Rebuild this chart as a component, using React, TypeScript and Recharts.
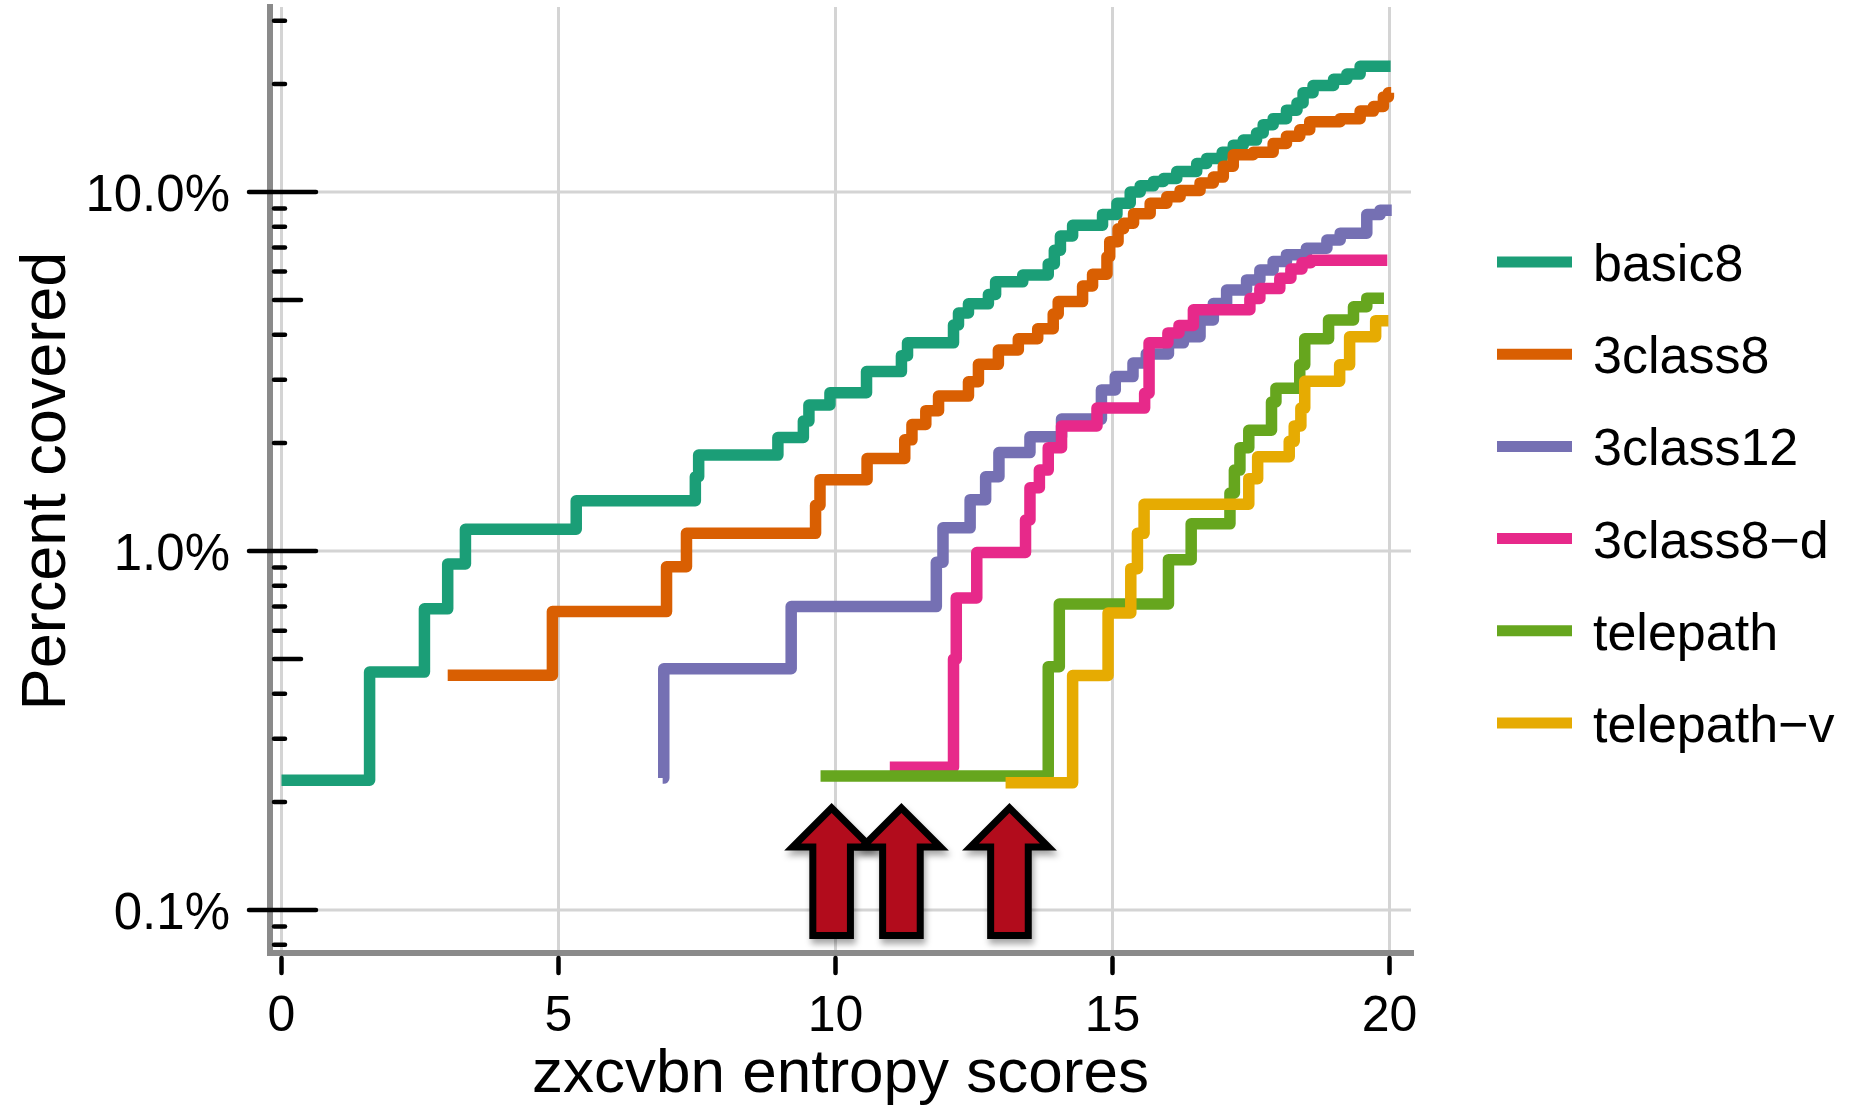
import React from 'react';
import { LineChart, Line, XAxis, YAxis, ReferenceLine, ReferenceDot, Legend, Label } from 'recharts';

const FONT = '"Liberation Sans", Arial, Helvetica, sans-serif';

// [x, percent] step points (stepAfter)
const basic8 = [
  [0, 0.23], [1.59, 0.46], [2.58, 0.69], [3.0, 0.92], [3.32, 1.15], [5.32, 1.38], [7.47, 1.61], [7.53, 1.85],
  [8.96, 2.07], [9.42, 2.3], [9.52, 2.55], [9.9, 2.76], [10.56, 3.16], [11.19, 3.5], [11.3, 3.8], [12.13, 4.26],
  [12.22, 4.6], [12.4, 4.88], [12.76, 5.18], [12.89, 5.62], [13.38, 5.87], [13.84, 6.3], [13.95, 6.88], [14.06, 7.54],
  [14.28, 8.08], [14.82, 8.66], [15.08, 9.3], [15.32, 10.0], [15.5, 10.4], [15.74, 10.7], [15.92, 10.9], [16.16, 11.4],
  [16.52, 12.0], [16.7, 12.4], [16.98, 12.9], [17.18, 13.5], [17.36, 13.95], [17.6, 14.6], [17.72, 15.4], [17.9, 16.0],
  [18.14, 16.9], [18.33, 17.7], [18.44, 18.9], [18.62, 19.8], [18.99, 20.6], [19.23, 21.3], [19.47, 22.4], [20.02, 22.4],
];
const class3_8 = [
  [3.0, 0.451], [4.89, 0.678], [6.95, 0.904], [7.31, 1.12], [9.64, 1.34], [9.72, 1.58], [10.57, 1.81], [11.25, 2.04],
  [11.38, 2.25], [11.63, 2.46], [11.86, 2.7], [12.4, 2.96], [12.58, 3.31], [12.94, 3.63], [13.3, 3.9], [13.65, 4.16],
  [13.93, 4.57], [14.02, 4.95], [14.46, 5.47], [14.64, 5.9], [14.9, 6.6], [14.95, 7.27], [15.1, 7.9], [15.2, 8.18],
  [15.38, 8.7], [15.68, 9.3], [15.98, 9.7], [16.22, 10.1], [16.58, 10.6], [16.82, 11.0], [17.0, 11.8], [17.18, 12.7],
  [17.54, 12.9], [17.9, 13.65], [18.14, 14.3], [18.38, 14.9], [18.56, 15.7], [19.11, 16.0], [19.47, 16.8], [19.71, 17.3],
  [19.89, 18.4], [19.98, 18.9], [20.03, 18.9],
];
const class3_12 = [
  [6.88, 0.233], [6.9, 0.47], [9.2, 0.7], [11.82, 0.93], [11.94, 1.16], [12.43, 1.39], [12.71, 1.61], [12.95, 1.88],
  [13.51, 2.08], [14.08, 2.33], [14.8, 2.81], [15.05, 3.06], [15.37, 3.34], [15.61, 3.54], [16.01, 3.8], [16.28, 3.95],
  [16.58, 4.4], [16.82, 4.89], [17.06, 5.33], [17.42, 5.69], [17.66, 6.06], [17.9, 6.4], [18.14, 6.69], [18.5, 6.97],
  [18.87, 7.35], [19.11, 7.68], [19.59, 8.65], [19.83, 8.9], [20.04, 8.9],
];
const class3_8d = [
  [10.98, 0.25], [12.13, 0.5], [12.18, 0.74], [12.55, 0.99], [13.43, 1.22], [13.51, 1.5], [13.68, 1.68], [13.84, 1.94],
  [14.08, 2.23], [14.72, 2.5], [15.58, 2.75], [15.66, 3.8], [16.0, 4.05], [16.2, 4.25], [16.46, 4.7], [17.48, 5.05],
  [17.66, 5.38], [18.02, 5.75], [18.22, 6.1], [18.42, 6.35], [18.58, 6.45], [19.96, 6.45],
];
const telepath = [
  [9.73, 0.236], [13.84, 0.476], [14.04, 0.712], [16.01, 0.946], [16.42, 1.19], [17.12, 1.45], [17.2, 1.68], [17.3, 1.94],
  [17.46, 2.17], [17.87, 2.6], [17.95, 2.84], [18.38, 3.3], [18.47, 3.9], [18.9, 4.4], [19.35, 4.79], [19.59, 5.06],
  [19.9, 5.06],
];
const telepathV = [
  [13.07, 0.226], [14.28, 0.45], [14.92, 0.672], [15.33, 0.893], [15.45, 1.12], [15.57, 1.35], [17.46, 1.59], [17.62, 1.83],
  [18.19, 2.02], [18.28, 2.23], [18.4, 2.5], [18.47, 2.97], [19.1, 3.3], [19.28, 3.95], [19.75, 4.38], [19.98, 4.38],
];

const seriesNames = ['basic8', '3class8', '3class12', '3class8\u2212d', 'telepath', 'telepath\u2212v'];
const seriesColors = ['#1b9e77', '#d95f02', '#7570b3', '#e7298a', '#66a61e', '#e6ab02'];
const seriesData = [basic8, class3_8, class3_12, class3_8d, telepath, telepathV];

const xTicks = [0, 5, 10, 15, 20];
const xTickLabels = ['0', '5', '10', '15', '20'];
const yMajorTicks = [0.1, 1, 10];
const yMajorLabels = ['0.1%', '1.0%', '10.0%'];
const yMediumTicks = [0.5, 5];
const yMinorTicks = [0.08, 0.09, 0.2, 0.3, 0.4, 0.6, 0.7, 0.8, 0.9, 2, 3, 4, 6, 7, 8, 9, 20, 30];
const yAllTicks = [...yMajorTicks, ...yMediumTicks, ...yMinorTicks].sort((a, b) => a - b);

const arrowX = [9.93, 11.19, 13.14];
const arrowTip = 0.1923;

const X_DOMAIN: [number, number] = [-0.2076, 20.388];
const Y_DOMAIN: [number, number] = [0.0759, 32.75];

const toRows = (a: number[][]) => a.map(([x, y]) => ({ x, y }));

const near = (a: number, b: number) => Math.abs(a - b) < 1e-9;

const YTick = (props: any) => {
  const { x, y, payload } = props;
  const v = payload.value;
  const mi = yMajorTicks.findIndex((t) => near(t, v));
  if (mi >= 0) {
    return (
      <g>
        <line x1={x - 21} y1={y} x2={x + 46} y2={y} stroke="#000" strokeWidth={4.5} strokeLinecap="round" />
        <text x={x - 40} y={y + 19} textAnchor="end" fontSize={51} fontFamily={FONT} fill="#000">
          {yMajorLabels[mi]}
        </text>
      </g>
    );
  }
  const med = yMediumTicks.some((t) => near(t, v));
  return <line x1={x + 4} y1={y} x2={x + (med ? 31 : 15)} y2={y} stroke="#000" strokeWidth={4.5} strokeLinecap="round" />;
};

const XTick = (props: any) => {
  const { x, y, payload } = props;
  const i = xTicks.findIndex((t) => near(t, payload.value));
  return (
    <g>
      <line x1={x} y1={y + 5} x2={x} y2={y + 20} stroke="#000" strokeWidth={4.5} strokeLinecap="round" />
      <text x={x} y={y + 78} textAnchor="middle" fontSize={50} fontFamily={FONT} fill="#000">
        {i >= 0 ? xTickLabels[i] : String(payload.value)}
      </text>
    </g>
  );
};

const ArrowShape = (props: any) => {
  const { cx, cy } = props;
  if (cx == null || cy == null) return <g />;
  const d = `M ${cx} ${cy} L ${cx + 39} ${cy + 39} L ${cx + 18.8} ${cy + 39} L ${cx + 18.8} ${cy + 127.5} L ${cx - 18.8} ${cy + 127.5} L ${cx - 18.8} ${cy + 39} L ${cx - 39} ${cy + 39} Z`;
  return (
    <path
      d={d}
      fill="#b20c1c"
      stroke="#000"
      strokeWidth={7}
      strokeLinejoin="miter"
      style={{ filter: 'drop-shadow(2px 5px 3px rgba(0,0,0,0.35))' }}
    />
  );
};

const renderLegend = () => (
  <svg width={360} height={560} style={{ overflow: 'visible', display: 'block' }}>
    {seriesNames.map((n, i) => {
      const cy = 42 + i * 92.2;
      return (
        <g key={n}>
          <line x1={7} x2={82} y1={cy} y2={cy} stroke={seriesColors[i]} strokeWidth={11} />
          <text x={103} y={cy + 19} fontSize={52} fontFamily={FONT} fill="#000">
            {n}
          </text>
        </g>
      );
    })}
  </svg>
);

export default function App() {
  return (
    <div style={{ position: 'absolute', left: 0, top: 0, width: 1850, height: 1105, background: '#fff' }}>
      <LineChart width={1850} height={1105} margin={{ top: 7, right: 439, bottom: 0, left: 0 }}>
        <XAxis
          dataKey="x"
          type="number"
          domain={X_DOMAIN}
          allowDataOverflow
          ticks={xTicks}
          interval={0}
          tick={<XTick />}
          tickLine={false}
          tickSize={0}
          tickMargin={0}
          height={152}
          axisLine={{ stroke: '#8a8a8a', strokeWidth: 6, strokeLinecap: 'square' }}
        >
          <Label
            content={() => (
              <text x={840.5} y={1092} textAnchor="middle" fontSize={62} fontFamily={FONT} fill="#000">
                zxcvbn entropy scores
              </text>
            )}
          />
        </XAxis>
        <YAxis
          type="number"
          scale="log"
          domain={Y_DOMAIN}
          allowDataOverflow
          ticks={yAllTicks}
          interval={0}
          tick={<YTick />}
          tickLine={false}
          tickSize={0}
          tickMargin={0}
          width={270}
          axisLine={{ stroke: '#8a8a8a', strokeWidth: 6, strokeLinecap: 'square' }}
        >
          <Label
            content={() => (
              <text
                x={65}
                y={481}
                transform="rotate(-90, 65, 481)"
                textAnchor="middle"
                fontSize={63}
                fontFamily={FONT}
                fill="#000"
              >
                Percent covered
              </text>
            )}
          />
        </YAxis>
        {xTicks.map((v) => (
          <ReferenceLine key={'gx' + v} x={v} stroke="#d4d4d4" strokeWidth={3} />
        ))}
        {yMajorTicks.map((v) => (
          <ReferenceLine key={'gy' + v} y={v} stroke="#d4d4d4" strokeWidth={3} />
        ))}
        {seriesData.map((d, i) => (
          <Line
            key={seriesNames[i]}
            data={toRows(d)}
            dataKey="y"
            name={seriesNames[i]}
            type="stepAfter"
            stroke={seriesColors[i]}
            strokeWidth={11.5}
            strokeLinejoin="round"
            dot={false}
            activeDot={false}
            isAnimationActive={false}
          />
        ))}
        {arrowX.map((ax) => (
          <ReferenceDot key={'ar' + ax} x={ax} y={arrowTip} r={0} shape={ArrowShape} ifOverflow="visible" />
        ))}
        <Legend
          content={renderLegend}
          layout="vertical"
          align="center"
          verticalAlign="middle"
          wrapperStyle={{ position: 'absolute', left: 1490, top: 220, width: 360, height: 560 }}
        />
      </LineChart>
    </div>
  );
}
